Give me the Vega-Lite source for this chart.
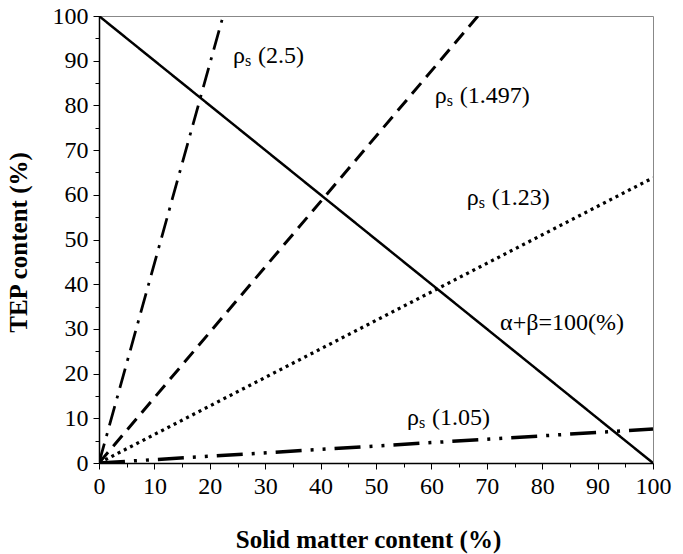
{
  "$schema": "https://vega.github.io/schema/vega-lite/v6.json",
  "width": 554,
  "height": 447,
  "autosize": "none",
  "padding": {"left": 99, "top": 16, "right": 30, "bottom": 91},
  "background": "white",
  "config": {
    "view": {"stroke": "#888888", "strokeWidth": 1},
    "font": "Liberation Serif"
  },
  "datasets": {
    "lines": [
      {"series": "sum", "x": 0, "y": 100},
      {"series": "sum", "x": 100, "y": 0},
      {"series": "r2.5", "x": 0, "y": 0},
      {"series": "r2.5", "x": 22.4, "y": 100},
      {"series": "r1.497", "x": 0, "y": 0},
      {"series": "r1.497", "x": 68.4, "y": 100},
      {"series": "r1.23", "x": 0, "y": 0},
      {"series": "r1.23", "x": 100, "y": 63.8},
      {"series": "r1.05", "x": 0, "y": 0},
      {"series": "r1.05", "x": 100, "y": 7.6}
    ],
    "rho": [
      {"x": 24.2, "y": 89.5, "label": "(2.5)"},
      {"x": 60.6, "y": 80.5, "label": "(1.497)"},
      {"x": 66.4, "y": 57.7, "label": "(1.23)"},
      {"x": 55.6, "y": 8.5, "label": "(1.05)"}
    ],
    "other": [
      {"x": 72.4, "y": 29.8, "label": "α+β=100(%)"}
    ]
  },
  "encoding": {
    "x": {
      "field": "x", "type": "quantitative",
      "scale": {"domain": [0, 100], "nice": false, "zero": false},
      "axis": {
        "title": "Solid matter content (%)",
        "values": [0,5,10,15,20,25,30,35,40,45,50,55,60,65,70,75,80,85,90,95,100],
        "labelExpr": "datum.value % 10 === 0 ? datum.label : ''",
        "grid": false,
        "domainColor": "black", "domainWidth": 1.5,
        "tickColor": "black",
        "tickSize": {"condition": {"test": "datum.value % 10 === 0", "value": 6}, "value": 4},
        "labelFont": "Liberation Serif", "labelFontSize": 24, "labelColor": "black",
        "labelPadding": 5, "labelFlush": false,
        "titleFont": "Liberation Serif", "titleFontSize": 25, "titleFontWeight": "bold", "titleColor": "black",
        "titleX": 269, "titleAlign": "center", "titleY": 76, "titleBaseline": "middle"
      }
    },
    "y": {
      "field": "y", "type": "quantitative",
      "scale": {"domain": [0, 100], "nice": false, "zero": false},
      "axis": {
        "title": "TEP content (%)",
        "values": [0,5,10,15,20,25,30,35,40,45,50,55,60,65,70,75,80,85,90,95,100],
        "labelExpr": "datum.value % 10 === 0 ? datum.label : ''",
        "grid": false,
        "domainColor": "black", "domainWidth": 1.5,
        "tickColor": "black",
        "tickSize": {"condition": {"test": "datum.value % 10 === 0", "value": 6}, "value": 4},
        "labelFont": "Liberation Serif", "labelFontSize": 24, "labelColor": "black",
        "labelPadding": 5, "labelFlush": false,
        "titleFont": "Liberation Serif", "titleFontSize": 25, "titleFontWeight": "bold", "titleColor": "black",
        "titleX": -81, "titleY": 226, "titleBaseline": "middle", "titleAlign": "center", "titleAngle": -90
      }
    }
  },
  "layer": [
    {
      "data": {"name": "lines"},
      "mark": {"type": "line", "color": "black", "clip": true},
      "encoding": {
        "detail": {"field": "series"},
        "strokeDash": {
          "field": "series", "type": "nominal", "legend": null,
          "scale": {
            "domain": ["sum", "r2.5", "r1.497", "r1.23", "r1.05"],
            "range": [[1, 0], [20, 8, 3, 8], [14, 8], [3, 4], [26, 9, 3, 9, 3, 9]]
          }
        },
        "strokeWidth": {
          "field": "series", "type": "nominal", "legend": null,
          "scale": {
            "domain": ["sum", "r2.5", "r1.497", "r1.23", "r1.05"],
            "range": [2.5, 3.5, 3.5, 3.5, 3.5]
          }
        }
      }
    },
    {
      "data": {"name": "rho"},
      "mark": {"type": "text", "align": "left", "baseline": "alphabetic", "fontSize": 24, "font": "Liberation Serif", "color": "black"},
      "encoding": {"text": {"value": "ρ"}}
    },
    {
      "data": {"name": "rho"},
      "mark": {"type": "text", "align": "left", "baseline": "alphabetic", "fontSize": 16, "font": "Liberation Serif", "color": "black", "dx": 12, "dy": 3},
      "encoding": {"text": {"value": "s"}}
    },
    {
      "data": {"name": "rho"},
      "mark": {"type": "text", "align": "left", "baseline": "alphabetic", "fontSize": 24, "font": "Liberation Serif", "color": "black", "dx": 25},
      "encoding": {"text": {"field": "label"}}
    },
    {
      "data": {"name": "other"},
      "mark": {"type": "text", "align": "left", "baseline": "alphabetic", "fontSize": 24, "font": "Liberation Serif", "color": "black"},
      "encoding": {"text": {"field": "label"}}
    }
  ]
}
